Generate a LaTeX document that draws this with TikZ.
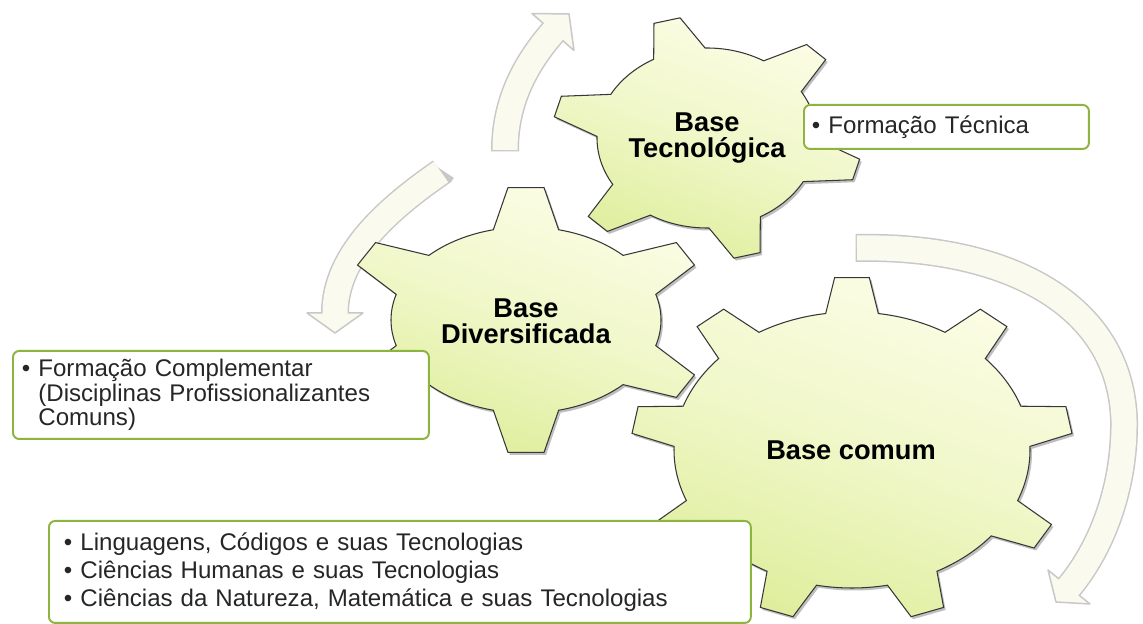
\documentclass[tikz,border=0pt]{standalone}
\usepackage{fontspec}
\setmainfont{Liberation Sans}
\usepackage{tikz}
\definecolor{gearlight}{RGB}{252,253,230}
\definecolor{geardark}{RGB}{222,238,156}
\definecolor{gearline}{RGB}{55,55,55}
\definecolor{boxline}{RGB}{141,180,62}
\definecolor{arrowfill}{RGB}{250,250,238}
\definecolor{arrowline}{RGB}{200,200,200}
% one closed gear outline: body radii, tip radii, first tooth, pitch, root and tip half-angles
\newcommand{\gearoutline}[8]{%
  (#5-#7:#1 and #2)
  \foreach \ang in {#5,\gearnext,...,\gearlast}{
    -- (\ang-#8:#3 and #4) -- (\ang+#8:#3 and #4) -- (\ang+#7:#1 and #2)
    arc[start angle=\ang+#7, end angle=\ang+#6-#7, x radius=#1, y radius=#2]
  } -- cycle}
\newcommand{\drawgear}[9]{%
  \pgfmathtruncatemacro\gearnext{#6+#7}%
  \pgfmathtruncatemacro\gearlast{#6+360-#7}%
  \begin{scope}[shift={#1}]
    \fill[gearshadow] \gearoutline{#2}{#3}{#4}{#5}{#6}{#7}{#8}{#9};
    \path[gear] \gearoutline{#2}{#3}{#4}{#5}{#6}{#7}{#8}{#9};
  \end{scope}}

\begin{document}
\begin{tikzpicture}[x=0.02cm,y=0.02cm,font=\fontsize{13.7}{15.9}\selectfont]
      \tikzstyle{gear}=[draw=gearline,line width=.6pt,top color=gearlight,bottom color=geardark,
                        middle color=gearlight!60!geardark,shading angle=-20]
      \tikzstyle{gearshadow}=[fill=black,opacity=.25,shift={(2,-2.5)}]
      \tikzstyle{gearlabel}=[align=center,font=\fontsize{15.5}{14.7}\selectfont\bfseries]
      \tikzstyle{infobox}=[draw=boxline,line width=1.1pt,fill=white,rounded corners=3.5pt,anchor=north west,align=left,text=black!85]
      \tikzstyle{arrowrim}=[draw=arrowline,line width=.56cm]
      \tikzstyle{arrowbody}=[draw=arrowfill,line width=.5cm]
      \tikzstyle{arrowhead}=[fill=arrowfill,draw=arrowline,line width=.85pt,line join=round]
      %
      \path[use as bounding box,fill=white] (0,0) rectangle (1143,-624);
      \clip (0,0) rectangle (1143,-624);
      % arrows
      \draw[arrowrim]  (505,-151.5) -- (505,-150) .. controls (505,-100) and (527,-62) .. (553,-32);
      \filldraw[arrowhead] (532,-13.5) -- (569,-14) -- (574,-50.5) -- cycle;
      \draw[arrowbody] (505,-150) .. controls (505,-100) and (527,-62) .. (553,-32) -- ++(2.6,3);
      %
      \draw[arrowrim]  (442.2,-170.2) -- (441,-172) .. controls (392,-206) and (335,-253) .. (335,-313);
      \filldraw[arrowhead] (307,-313) -- (335,-333) -- (363,-313) -- cycle;
      \draw[arrowbody] (441,-172) .. controls (392,-206) and (335,-253) .. (335,-313) -- ++(0,-4);
      %
      \draw[arrowrim]  (855.5,-248) -- (857,-248) .. controls (1000,-245) and (1120,-300) .. (1124,-420)
                       .. controls (1125,-490) and (1100,-550) .. (1069,-587);
      \filldraw[arrowhead] (1090,-604) -- (1056,-602) -- (1048,-570) -- cycle;
      \draw[arrowbody] (857,-248) .. controls (1000,-245) and (1120,-300) .. (1124,-420)
                       .. controls (1125,-490) and (1100,-550) .. (1069,-587) -- ++(-2.6,-3.1);
      % gears
      \drawgear{(852,-450)}{178}{138}{221}{173}{10}{40}{8.5}{4.5}
      \drawgear{(526,-320)}{135}{93}{185}{133}{90}{60}{14}{5.6}
      \drawgear{(707,-138)}{110}{90}{155}{122}{105}{60}{14}{5}
      % 
      \node [gearlabel] (com) at (851,-450) {Base comum};
      \node [gearlabel] (div) at (526,-321) {Base\\Diversificada};
      \node [gearlabel] (tec) at (707,-138) {Base\\Tecnológica};
      % 
      \node [infobox,inner xsep=.16cm,text width=5.38cm,minimum height=.88cm] (tecbox) at (803,-104)
            {\textbullet\ Formação Técnica};
      \node [infobox,inner xsep=.18cm,text width=7.96cm,minimum height=1.76cm,
             font=\fontsize{13.7}{13.9}\selectfont] (divbox) at (12,-350)
            {\textbullet\ Formação Complementar\\
             \phantom{\textbullet\ }(Disciplinas Profissionalizantes\\
             \phantom{\textbullet\ }Comuns)};
      \node [infobox,inner xsep=.3cm,text width=13.44cm,minimum height=2.04cm] (combox) at (48,-520)
            {\textbullet\ Linguagens, Códigos e suas Tecnologias\\
             \textbullet\ Ciências Humanas e suas Tecnologias\\
             \textbullet\ Ciências da Natureza, Matemática e suas Tecnologias};
    \end{tikzpicture}
\end{document}
